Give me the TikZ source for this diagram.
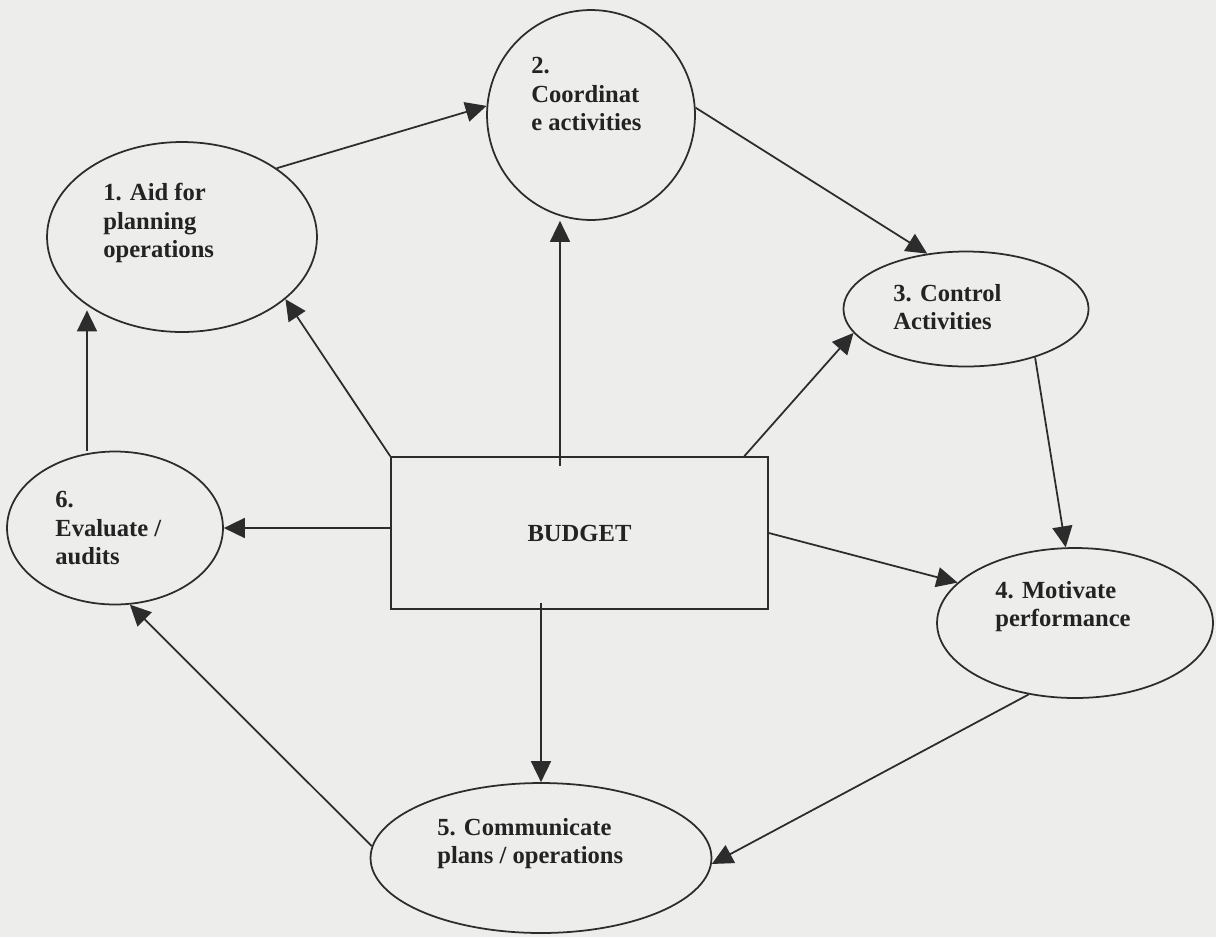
\documentclass[tikz,border=0pt]{standalone}
\usepackage{fontspec}
\setmainfont{Liberation Serif}
\usetikzlibrary{shapes,arrows.meta,positioning,calc}
\definecolor{ink}{RGB}{44,44,44}
\definecolor{paper}{RGB}{237,237,235}

\begin{document}
\begin{tikzpicture}[x=0.02cm,y=-0.02cm,
    bubble/.style={draw=ink,line width=1pt,ellipse,inner sep=0pt},
    box/.style={draw=ink,line width=1pt,rectangle,inner sep=0pt,font=\fontsize{14}{16}\selectfont\bfseries,text=ink!80!black},
    lbl/.style={anchor=west,align=left,inner sep=0pt,font=\fontsize{14}{16}\selectfont\bfseries,text=ink!80!black},
    arr/.style={draw=ink,line width=1pt,-{Triangle[length=0.42cm,width=0.4cm]}}]
    \fill[paper] (0,0) rectangle (1216,937);
    \useasboundingbox (0,0) rectangle (1216,937);

    % the budget in the middle
    \node[box,minimum width=7.54cm,minimum height=3.04cm] (budget) at (579.5,533) {BUDGET};

    % the six uses round it
    \node[bubble,minimum width=5.4cm,minimum height=3.8cm] (e1) at (182,237) {};
    \node[bubble,minimum width=4.16cm,minimum height=4.2cm] (e2) at (591,115) {};
    \node[bubble,minimum width=4.9cm,minimum height=2.3cm] (e3) at (966,309) {};
    \node[bubble,minimum width=5.52cm,minimum height=3.0cm] (e4) at (1075,623) {};
    \node[bubble,minimum width=6.82cm,minimum height=3.0cm] (e5) at (541,858) {};
    \node[bubble,minimum width=4.32cm,minimum height=3.06cm] (e6) at (115,528) {};

    \node[lbl] (t1) at (103,223) {1. Aid for\\planning\\operations};
    \node[lbl] (t2) at (531,94) {2.\\Coordinat\\e activities};
    \node[lbl] (t3) at (893,307) {3. Control\\Activities};
    \node[lbl] (t4) at (995,607) {4. Motivate\\performance};
    \node[lbl] (t5) at (437,844) {5. Communicate\\plans / operations};
    \node[lbl] (t6) at (55,528) {6.\\Evaluate /\\audits};

    % cycle round the outside
    \draw[arr] (e1.36) -- (e2.175);
    \draw[arr] (e2.4) -- (e3.125);
    \draw[arr] (e3.-35) -- (e4.97);
    \draw[arr] (e4.-123) -- (e5.-2);
    \draw[arr] (e5.176) -- (e6.-79);
    \draw[arr] ([xshift=-0.56cm]e6.north) -- ([xshift=-0.56cm]e6.north |- e1.-140);

    % from the budget out
    \draw[arr] (budget.north west) -- (e1.-31);
    \draw[arr] ([xshift=-0.39cm,yshift=-0.2cm]budget.north) -- ([xshift=-0.39cm]budget.north |- e2.south);
    \draw[arr] (budget.25) -- (e3.192);
    \draw[arr] (budget.west |- e6.east) -- (e6.east);
    \draw[arr] (budget.east) -- (e4.161);
    \draw[arr] ([yshift=0.14cm]budget.south -| e5.north) -- (e5.north);
\end{tikzpicture}
\end{document}
